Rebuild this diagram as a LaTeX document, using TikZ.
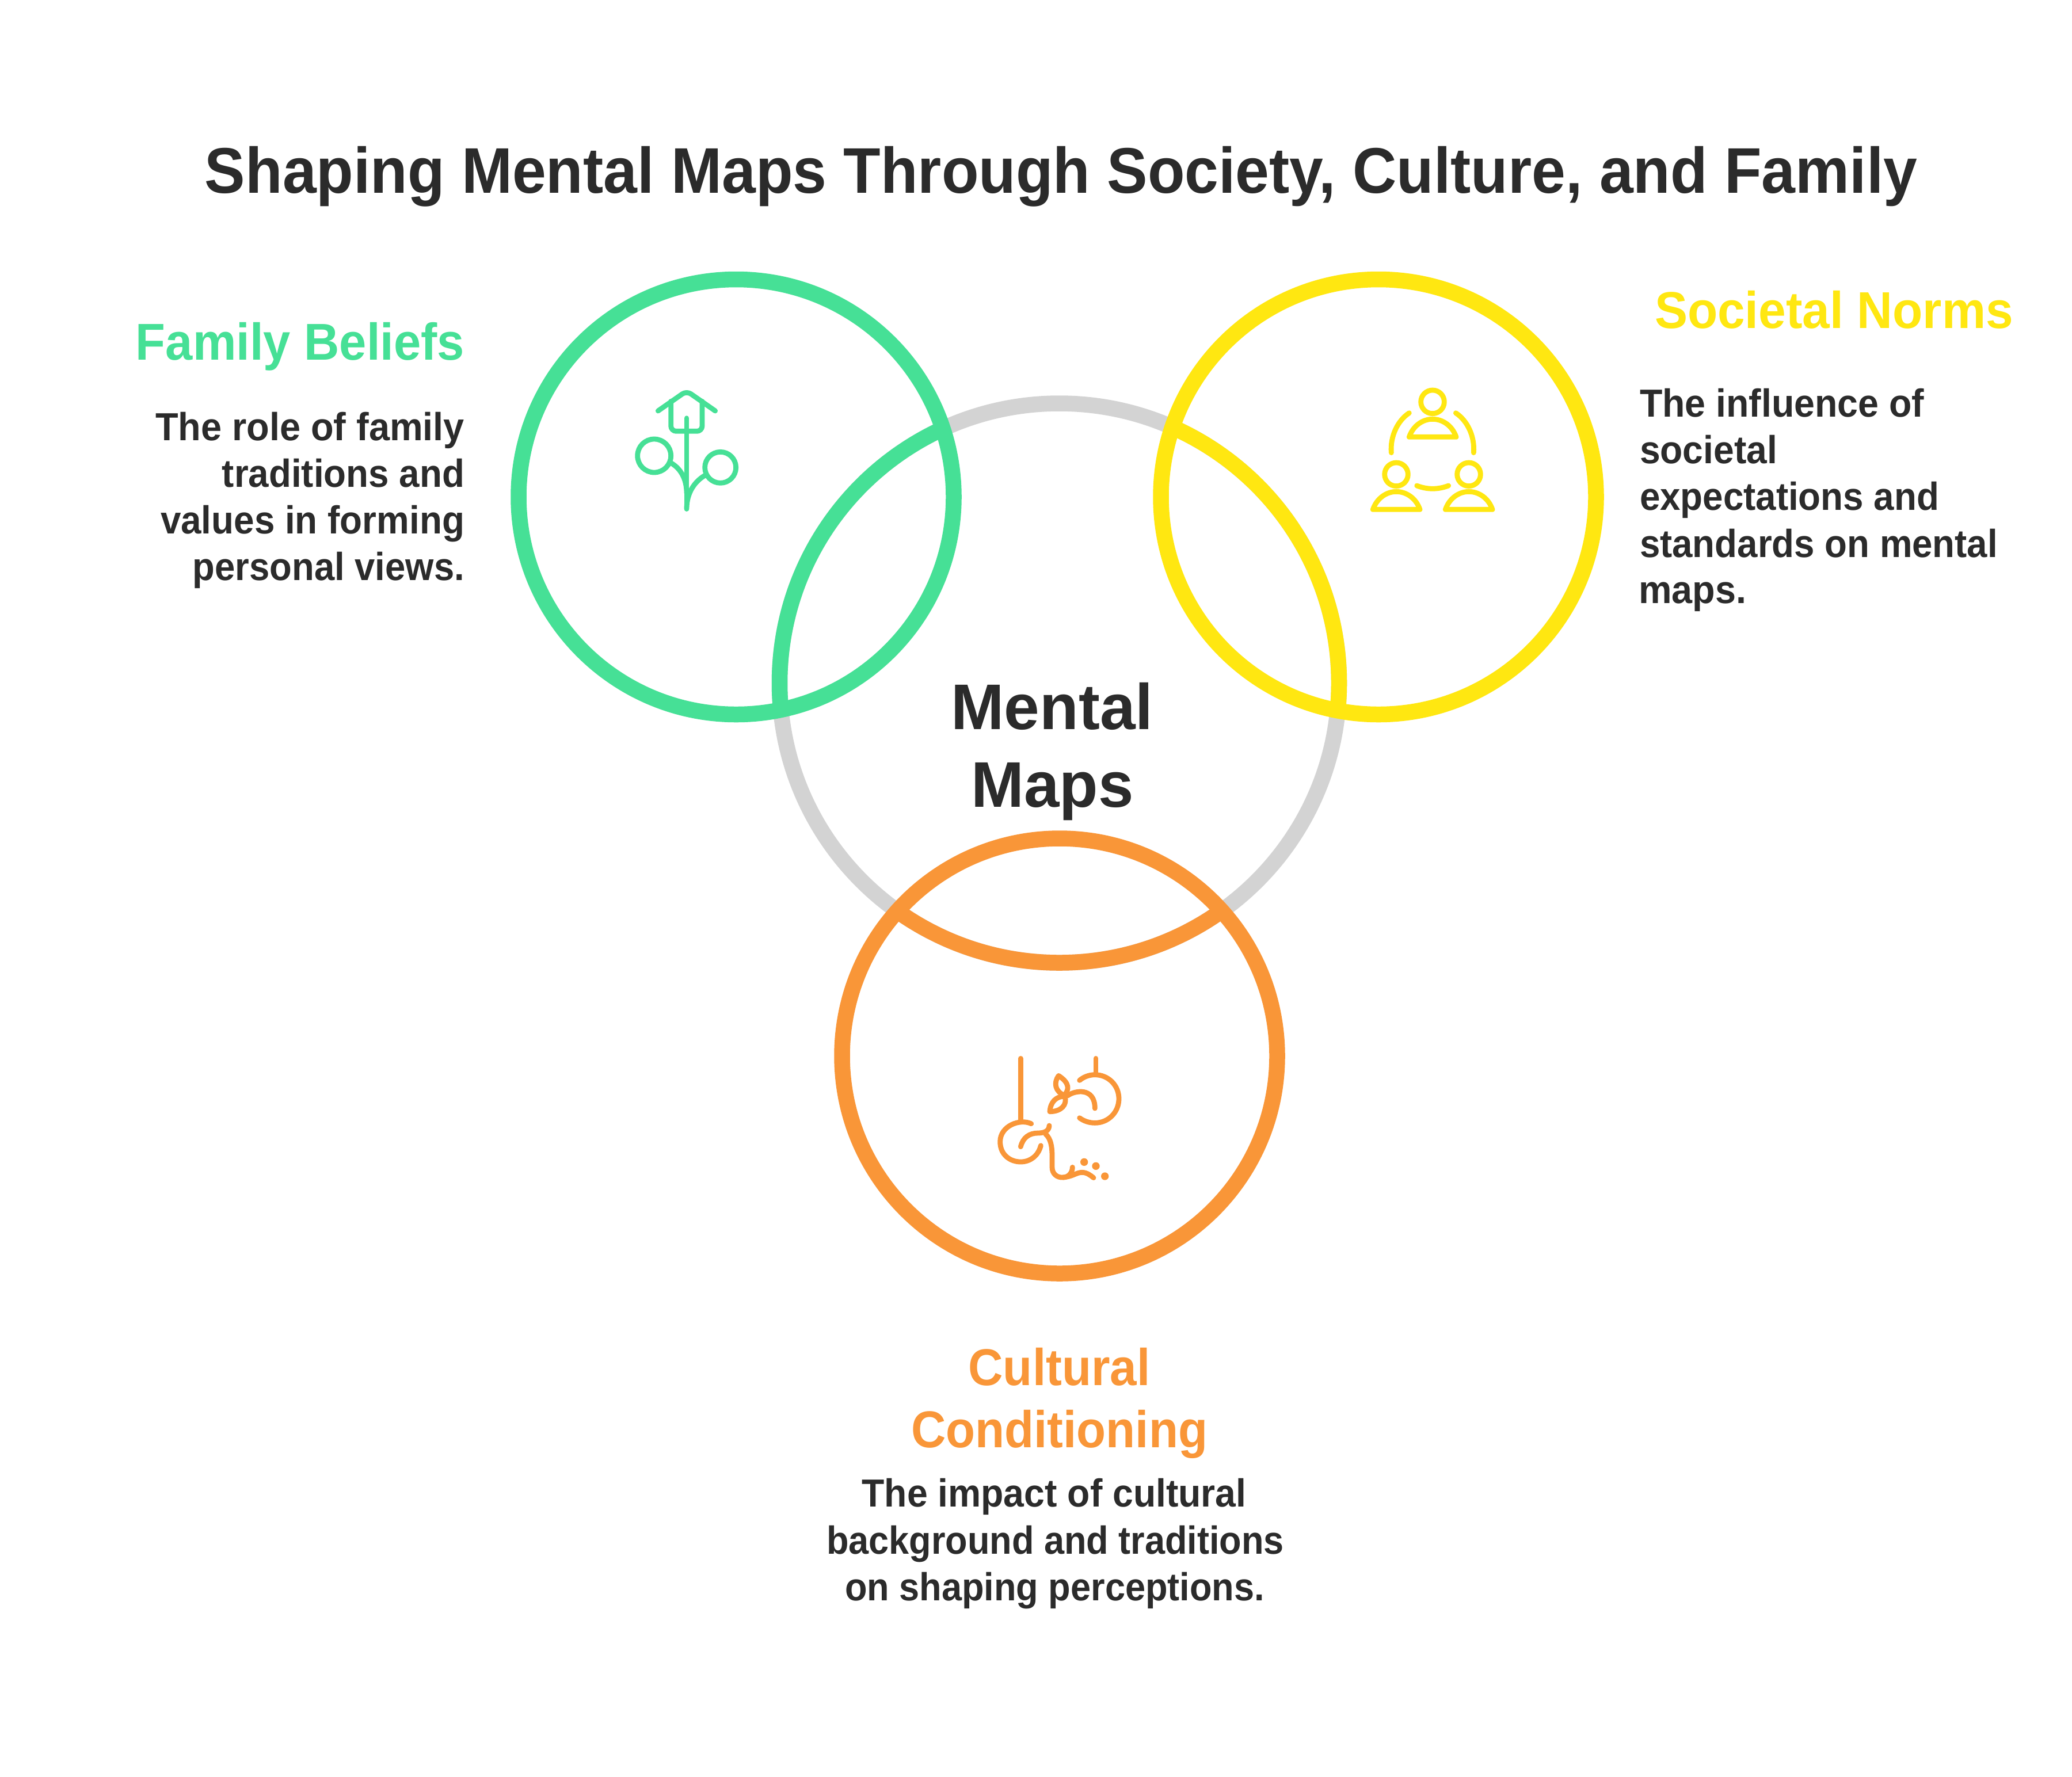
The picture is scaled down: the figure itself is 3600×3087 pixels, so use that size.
\documentclass[tikz,border=0pt]{standalone}
\usepackage{fontspec}
\usepackage{graphicx}
\setmainfont{Liberation Sans}[BoldFont={Liberation Sans Bold}]
\definecolor{inktext}{HTML}{2B2B2B}
\definecolor{ringgrey}{HTML}{D3D3D3}
\definecolor{ringgreen}{HTML}{46E096}
\definecolor{ringyellow}{HTML}{FFE711}
\definecolor{ringorange}{HTML}{F99638}
\newlength\pxu
\setlength\pxu{0.01cm}
\newcommand\fitw[2]{\resizebox{#1\pxu}{\height}{#2}}
\tikzset{
  ringline/.style={line width=27.5\pxu},
  iconline/.style={line width=8.8\pxu,line cap=round,line join=round},
  txt/.style={inner sep=0pt,outer sep=0pt},
  titletxt/.style={txt,text=inktext,font=\bfseries\fontsize{31.87}{38}\selectfont},
  headtxt/.style={txt,font=\bfseries\fontsize{25.6}{30}\selectfont},
  bodytxt/.style={txt,text=inktext,font=\bfseries\fontsize{19.35}{23}\selectfont},
}
\begin{document}
\begin{tikzpicture}[x=0.01cm,y=-0.01cm]
\useasboundingbox (0,0) rectangle (3600,3087);
\fill[white] (0,0) rectangle (3600,3087);
\coordinate (cm) at (1840.5,1187);
\coordinate (cg) at (1279,863.5);
\coordinate (cy) at (2395,863.5);
\coordinate (co) at (1841,1835);

% central ring and its tinted arcs
\draw[ringline,ringgrey] (cm) circle (486);
\begin{scope}\clip (cg) circle (378);\draw[ringline,ringgreen] (cm) circle (486);\end{scope}
\begin{scope}\clip (cy) circle (378);\draw[ringline,ringyellow] (cm) circle (486);\end{scope}
\begin{scope}\clip (co) circle (378);\draw[ringline,ringorange] (cm) circle (486);\end{scope}
\draw[ringline,ringgreen] (cg) circle (378);
\draw[ringline,ringyellow] (cy) circle (378);
\draw[ringline,ringorange] (co) circle (378);

% texts
\node[titletxt,anchor=base] (title) at (1843.5,335) {\fitw{2975}{Shaping Mental Maps Through Society, Culture, and Family}};
\node[titletxt,anchor=base] (m1) at (1828,1267) {\fitw{351}{Mental}};
\node[titletxt,anchor=base] (m2) at (1828.5,1402) {\fitw{282}{Maps}};

\node[headtxt,text=ringgreen,anchor=base east] (fb) at (807,625) {\fitw{571}{Family Beliefs}};
\node[bodytxt,anchor=base east] (fb1) at (807,765) {\fitw{537}{The role of family}};
\node[bodytxt,anchor=base east] (fb2) at (807,846) {\fitw{421}{traditions and}};
\node[bodytxt,anchor=base east] (fb3) at (807,927) {\fitw{528}{values in forming}};
\node[bodytxt,anchor=base east] (fb4) at (807,1008) {\fitw{472}{personal views.}};

\node[headtxt,text=ringyellow,anchor=base west] (sn) at (2875,570) {\fitw{623}{Societal Norms}};
\node[bodytxt,anchor=base west] (sn1) at (2849,724.5) {\fitw{494}{The influence of}};
\node[bodytxt,anchor=base west] (sn2) at (2849,805) {\fitw{239}{societal}};
\node[bodytxt,anchor=base west] (sn3) at (2849,886) {\fitw{520}{expectations and}};
\node[bodytxt,anchor=base west] (sn4) at (2849,968) {\fitw{622}{standards on mental}};
\node[bodytxt,anchor=base west] (sn5) at (2847,1048) {\fitw{187}{maps.}};

\node[headtxt,text=ringorange,anchor=base] (cc1) at (1840.5,2407) {\fitw{316}{Cultural}};
\node[headtxt,text=ringorange,anchor=base] (cc2) at (1840.5,2515) {\fitw{515}{Conditioning}};
\node[bodytxt,anchor=base] (cc3) at (1831.5,2618) {\fitw{668}{The impact of cultural}};
\node[bodytxt,anchor=base] (cc4) at (1833.5,2700) {\fitw{795}{background and traditions}};
\node[bodytxt,anchor=base] (cc5) at (1832.5,2781) {\fitw{729}{on shaping perceptions.}};

% family icon
\begin{scope}[shift={(1050,640)},scale=1/3,iconline,draw=ringgreen]
  \draw[rounded corners=2.6pt] (280,222) -- (429,118) -- (578,222);
  \draw[rounded corners=2.6pt] (347,172) -- (347,328) -- (510,328) -- (510,172);
  \draw (429,260) -- (429,733);
  \draw (260,456) circle (87);
  \draw (605,517) circle (81);
  \draw (350,495) .. controls (400,525) and (429,580) .. (429,650);
  \draw (525,558) .. controls (470,590) and (429,650) .. (429,733);
\end{scope}

% society icon
\begin{scope}[shift={(2340,640)},scale=1/3,iconline,draw=ringyellow]
  \foreach \dx/\dy in {0/0,-189/378,189/378}{
    \begin{scope}[shift={(\dx,\dy)}]
      \draw (447,175) circle (61);
      \draw (325,358) .. controls (345,300) and (395,265) .. (447,265) .. controls (500,265) and (550,300) .. (570,358) -- cycle;
    \end{scope}
  }
  \draw (325,233) .. controls (265,272) and (225,355) .. (232,440);
  \draw (568,233) .. controls (628,272) and (668,355) .. (661,440);
  \draw (365,612) .. controls (420,633) and (475,633) .. (530,612);
\end{scope}

% culture icon
\begin{scope}[shift={(1700,1800)},scale=1/3,iconline,draw=ringorange]
  \draw (220,118) -- (220,440);
  \draw (275,458) .. controls (215,430) and (113,470) .. (113,552) .. controls (113,620) and (165,657) .. (220,657) .. controls (270,657) and (312,625) .. (325,572);
  \draw (612,118) -- (612,200);
  \draw (527,232) .. controls (550,213) and (578,203) .. (607,203) .. controls (677,203) and (732,258) .. (732,328) .. controls (732,398) and (677,454) .. (607,454) .. controls (578,454) and (550,445) .. (527,428);
  \draw (418,208) .. controls (390,245) and (400,290) .. (447,310) .. controls (475,280) and (475,245) .. (418,208);
  \draw (372,395) .. controls (375,345) and (405,315) .. (450,315) .. controls (465,360) and (430,395) .. (372,395);
  \draw (465,312) .. controls (500,285) and (607,265) .. (607,378);
  \draw (220,578) .. controls (232,530) and (265,507) .. (310,507) .. controls (345,507) and (368,495) .. (369,468);
  \draw (350,512) .. controls (375,535) and (384,570) .. (384,630) -- (384,685) .. controls (384,720) and (410,740) .. (440,738) .. controls (490,735) and (510,712) .. (540,712) .. controls (565,712) and (585,728) .. (600,740);
  \draw (490,685) .. controls (490,715) and (468,738) .. (440,738);
  \fill[ringorange] (551,658) circle (20) (612,679) circle (20) (659,732) circle (20);
\end{scope}
\end{tikzpicture}
\end{document}
